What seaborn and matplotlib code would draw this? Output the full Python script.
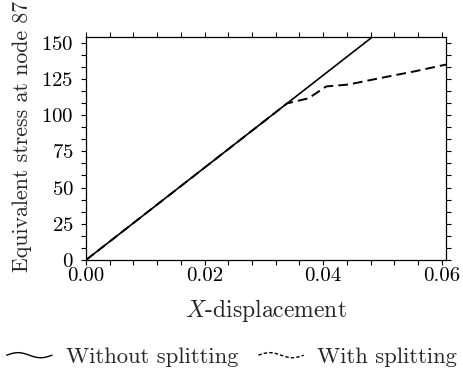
import numpy as np
import pandas as pd
import matplotlib
matplotlib.use("Agg")
import matplotlib.pyplot as plt
from matplotlib.lines import Line2D
from matplotlib.legend_handler import HandlerBase
from matplotlib.ticker import MultipleLocator, FixedLocator
import seaborn as sns

# Load-displacement response at node 87
disp_without = [0.0, 0.050]
stress_without = [0.0, 159.3]

disp_with = [0.0, 0.0339, 0.0375, 0.0405, 0.0442, 0.0500, 0.0555, 0.0607]
stress_with = [0.0, 108.0, 111.5, 119.7, 121.0, 125.8, 130.2, 134.8]

series_names = ["Without splitting", "With splitting"]

x_ticks = [0.00, 0.02, 0.04, 0.06]
x_tick_labels = ["0.00", "0.02", "0.04", "0.06"]
y_ticks = [0, 25, 50, 75, 100, 125, 150]

sns.set_style("ticks")
plt.rcParams.update({
    "font.family": ["cmr10"],
    "mathtext.fontset": "cm",
    "axes.formatter.use_mathtext": True,
    "axes.unicode_minus": False,
    "font.size": 15,
})

df = pd.concat([
    pd.DataFrame({"disp": disp_without, "stress": stress_without, "case": series_names[0]}),
    pd.DataFrame({"disp": disp_with, "stress": stress_with, "case": series_names[1]}),
])

fig = plt.figure(figsize=(4.64, 3.69), dpi=100)
ax = fig.add_axes([0.1853, 0.2954, 0.9612 - 0.1853, 0.8989 - 0.2954])

sns.lineplot(data=df[df.case == series_names[0]], x="disp", y="stress",
             color="black", lw=1.2, ax=ax, sort=False)
sns.lineplot(data=df[df.case == series_names[1]], x="disp", y="stress",
             color="black", lw=1.4, ax=ax, sort=False)
ax.lines[1].set_dashes([5, 2.6])

ax.set_xlim(0, 0.0607)
ax.set_ylim(0, 153.6)

ax.xaxis.set_major_locator(FixedLocator(x_ticks))
ax.set_xticklabels(x_tick_labels)
ax.xaxis.set_minor_locator(MultipleLocator(0.004))
ax.yaxis.set_major_locator(FixedLocator(y_ticks))
ax.yaxis.set_minor_locator(MultipleLocator(25 / 3))

ax.tick_params(which="both", direction="out", length=3.4, width=0.8,
               top=True, right=True, labelsize=15, colors="black")
ax.tick_params(axis="x", which="both", pad=2)
ax.tick_params(axis="y", which="both", pad=5.5)
for side in ["top", "right", "bottom", "left"]:
    ax.spines[side].set_visible(True)
    ax.spines[side].set_linewidth(0.9)
    ax.spines[side].set_color("black")

ax.set_xlabel(r"$X$-displacement", fontsize=17, labelpad=8)
ax.set_ylabel("Equivalent stress at node 87", fontsize=15.75)
ax.yaxis.set_label_coords(-0.15, 0.554)


class WavyHandler(HandlerBase):
    """Legend key drawn as one period of a wave in the line's style."""

    def create_artists(self, legend, orig_handle, xdescent, ydescent,
                       width, height, fontsize, trans):
        t = np.linspace(0, 1, 40)
        xs = -xdescent + t * width
        ys = -ydescent + height / 2 + 0.16 * height * np.sin(2 * np.pi * t)
        line = Line2D(xs, ys, color="black", lw=orig_handle.get_linewidth())
        line.set_linestyle(orig_handle.get_linestyle())
        if orig_handle.get_linestyle() != "-":
            line.set_dashes([2.5, 1.5])
        line.set_transform(trans)
        return [line]


h1 = Line2D([], [], color="black", lw=1.0, ls="-")
h2 = Line2D([], [], color="black", lw=1.0, ls="--")
fig.legend([h1, h2], series_names, loc="center", bbox_to_anchor=(0.5, 0.032),
           ncol=2, frameon=False, handlelength=2.0, handletextpad=0.6,
           columnspacing=0.9, fontsize=16.3,
           handler_map={h1: WavyHandler(), h2: WavyHandler()})

fig.savefig("out.png", dpi=100)
